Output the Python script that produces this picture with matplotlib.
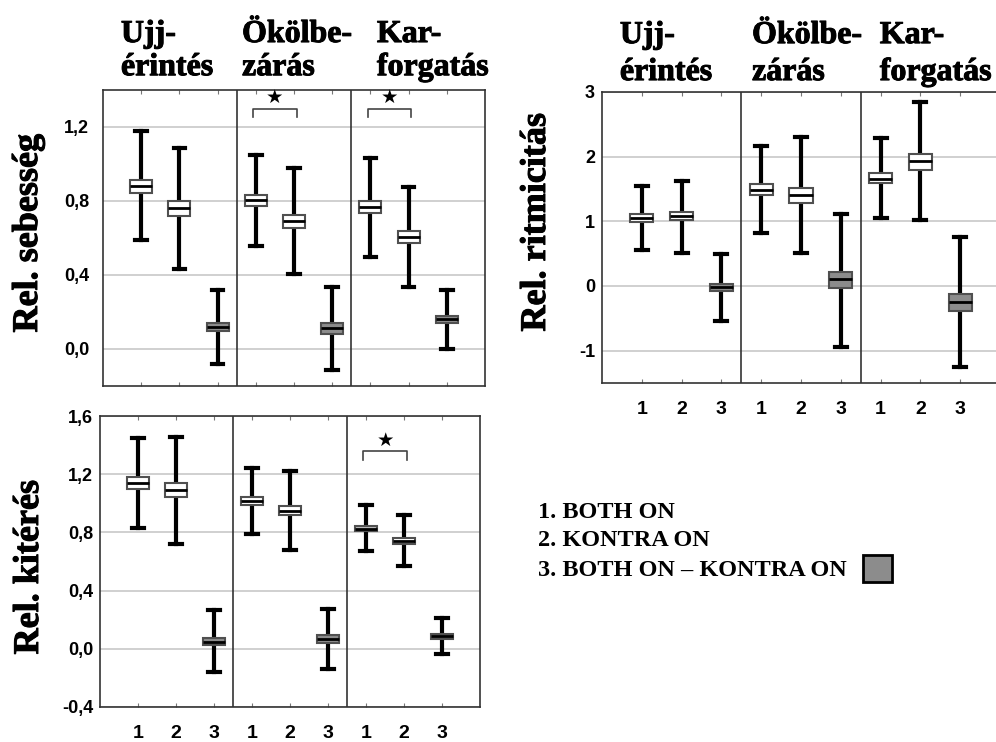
import matplotlib
matplotlib.use('Agg')
from matplotlib import pyplot as plt
from matplotlib.patches import Rectangle
import matplotlib.patheffects as pe

# column titles (two lines each)
title_top = ['Ujj-', 'Ökölbe-', 'Kar-']
title_bot = ['érintés', 'zárás', 'forgatás']
cond_labels = ['1', '2', '3'] * 3

# Rel. sebesség (box stats, 3 conditions x 3 tasks)
speed_hi = [1.176, 1.085, 0.317, 1.049, 0.978, 0.334, 1.030, 0.878, 0.317]
speed_q3 = [0.916, 0.802, 0.143, 0.834, 0.727, 0.138, 0.800, 0.640, 0.180]
speed_med = [0.882, 0.760, 0.120, 0.804, 0.693, 0.111, 0.769, 0.608, 0.161]
speed_q1 = [0.842, 0.718, 0.096, 0.771, 0.655, 0.083, 0.733, 0.571, 0.143]
speed_lo = [0.588, 0.435, -0.080, 0.557, 0.403, -0.112, 0.499, 0.334, 0.000]

# Rel. ritmicitás
rhythm_hi = [1.553, 1.620, 0.489, 2.160, 2.305, 1.121, 2.289, 2.840, 0.751]
rhythm_q3 = [1.106, 1.142, 0.036, 1.574, 1.517, 0.221, 1.744, 2.037, -0.129]
rhythm_med = [1.044, 1.080, -0.010, 1.492, 1.404, 0.103, 1.662, 1.929, -0.247]
rhythm_q1 = [0.988, 1.013, -0.082, 1.409, 1.286, -0.036, 1.595, 1.800, -0.386]
rhythm_lo = [0.550, 0.514, -0.540, 0.823, 0.504, -0.936, 1.049, 1.013, -1.260]

# Rel. kitérés
ampl_hi = [1.451, 1.456, 0.264, 1.242, 1.222, 0.275, 0.986, 0.917, 0.211]
ampl_q3 = [1.180, 1.137, 0.076, 1.043, 0.981, 0.092, 0.841, 0.763, 0.099]
ampl_med = [1.139, 1.093, 0.050, 1.015, 0.947, 0.069, 0.825, 0.743, 0.085]
ampl_q1 = [1.100, 1.043, 0.023, 0.988, 0.917, 0.041, 0.807, 0.720, 0.069]
ampl_lo = [0.832, 0.722, -0.160, 0.791, 0.681, -0.138, 0.669, 0.566, -0.039]

speed_ticks = [0.0, 0.4, 0.8, 1.2]
speed_ticklabels = ['0,0', '0,4', '0,8', '1,2']
rhythm_ticks = [-1, 0, 1, 2, 3]
rhythm_ticklabels = ['-1', '0', '1', '2', '3']
ampl_ticks = [-0.4, 0.0, 0.4, 0.8, 1.2, 1.6]
ampl_ticklabels = ['-0,4', '0,0', '0,4', '0,8', '1,2', '1,6']

legend_lines = ['1. BOTH ON', '2. KONTRA ON', '3. BOTH ON \u2013 KONTRA ON']

# significance brackets: (first box, second box, height in data units)
speed_sig = [(4, 5, 1.30), (7, 8, 1.30)]
ampl_sig = [(7, 8, 1.36)]

GRAY = '#8c8c8c'
SERIF = 'Liberation Serif'
SANS = 'Liberation Sans'
BOLDER = [pe.withStroke(linewidth=0.7, foreground='black')]


def panel(ax, lo, q1, med, q3, hi, ylim, ticks, ticklabels, fills, xlabels, fs_y, fs_x):
    stats = []
    for i in range(len(med)):
        stats.append(dict(whislo=lo[i], q1=q1[i], med=med[i], q3=q3[i], whishi=hi[i], fliers=[]))
    pos = list(range(1, len(med) + 1))
    bp = ax.bxp(stats, positions=pos, widths=0.58, capwidths=0.3, patch_artist=True,
                showfliers=False, manage_ticks=False,
                boxprops=dict(facecolor='white', edgecolor='#505050', linewidth=1.5),
                medianprops=dict(color='black', linewidth=2),
                whiskerprops=dict(color='black', linewidth=3),
                capprops=dict(color='black', linewidth=3))
    for box, fc in zip(bp['boxes'], fills):
        box.set_facecolor(fc)
        box.set_zorder(3)
    for ln in bp['medians']:
        ln.set_zorder(4)
    ax.set_xlim(0, 10)
    ax.set_ylim(*ylim)
    ax.set_yticks(ticks)
    ax.set_yticklabels(ticklabels, fontsize=fs_y, fontweight='bold', family=SANS)
    ax.set_xticks(pos)
    ax.set_xticklabels(xlabels, fontsize=fs_x, fontweight='bold', family=SANS)
    ax.tick_params(axis='x', direction='in', length=3, color='#777777', top=True, pad=13)
    ax.tick_params(axis='y', length=0, pad=8)
    for t in ticks:
        ax.axhline(t, color='#c8c8c8', linewidth=1.2, zorder=0)
    for xv in (3.5, 6.5):
        ax.axvline(xv, color='#333333', linewidth=1.2, zorder=1)
    for sp in ax.spines.values():
        sp.set_color('#333333')
        sp.set_linewidth(1.2)


def brackets(ax, sig, leg, gap):
    for a, b, h in sig:
        ax.plot([a - 0.07, a - 0.07, b + 0.07, b + 0.07], [h - leg, h, h, h - leg],
                color='#444444', linewidth=1.2, zorder=2)
        ax.text((a + b) / 2, h + gap, '\u2605', ha='center', va='center',
                fontsize=14, family='DejaVu Sans')


def titles(ax, xs, y1, y2):
    tr = ax.get_xaxis_transform()
    for x, t1, t2 in zip(xs, title_top, title_bot):
        for yy, t in ((y1, t1), (y2, t2)):
            ax.text(x, yy, t, transform=tr, ha='left', va='baseline', fontsize=23,
                    fontweight='bold', family=SERIF, path_effects=BOLDER)


fig = plt.figure(figsize=(9.96, 7.42), dpi=100)
W, H = 996.0, 742.0

fills = ['white', 'white', GRAY] * 3
ampl_fills = list(fills)
ampl_fills[6] = '#bdbdbd'

ax1 = fig.add_axes([103 / W, 1 - 386 / H, 382 / W, 296 / H])
panel(ax1, speed_lo, speed_q1, speed_med, speed_q3, speed_hi, (-0.2, 1.4),
      speed_ticks, speed_ticklabels, fills, [''] * 9, 13, 14)
ax1.tick_params(axis='y', pad=10)
brackets(ax1, speed_sig, 0.045, 0.06)
titles(ax1, [0.47, 3.64, 7.17], 1.162, 1.05)

ax2 = fig.add_axes([602 / W, 1 - 383 / H, 398 / W, 291 / H])
panel(ax2, rhythm_lo, rhythm_q1, rhythm_med, rhythm_q3, rhythm_hi, (-1.5, 3.0),
      rhythm_ticks, rhythm_ticklabels, fills, cond_labels, 13, 14)
ax2.tick_params(axis='y', pad=5)
titles(ax2, [0.45, 3.77, 6.98], 1.168, 1.041)

ax3 = fig.add_axes([100 / W, 1 - 707 / H, 380 / W, 291 / H])
panel(ax3, ampl_lo, ampl_q1, ampl_med, ampl_q3, ampl_hi, (-0.4, 1.6),
      ampl_ticks, ampl_ticklabels, ampl_fills, cond_labels, 13, 14)
ax3.tick_params(axis='y', pad=5)
brackets(ax3, ampl_sig, 0.06, 0.07)

# y axis titles
for xpx, ypx, txt in [(37, 233, 'Rel. sebesség'), (545, 222, 'Rel. ritmicitás'),
                      (38, 567, 'Rel. kitérés')]:
    fig.text(xpx / W, 1 - ypx / H, txt, rotation=90, rotation_mode='anchor',
             ha='center', va='baseline', fontsize=26, fontweight='bold', family=SERIF,
             path_effects=BOLDER)

# legend block
for i, txt in enumerate(legend_lines):
    fig.text(538 / W, 1 - (512 + 29 * i) / H, txt, ha='left', va='center',
             fontsize=17.5, fontweight='bold', family=SERIF)
fig.add_artist(Rectangle((863 / W, 1 - 582 / H), 29 / W, 27 / H, transform=fig.transFigure,
                         facecolor=GRAY, edgecolor='black', linewidth=2))

fig.savefig('out.png', dpi=100)
